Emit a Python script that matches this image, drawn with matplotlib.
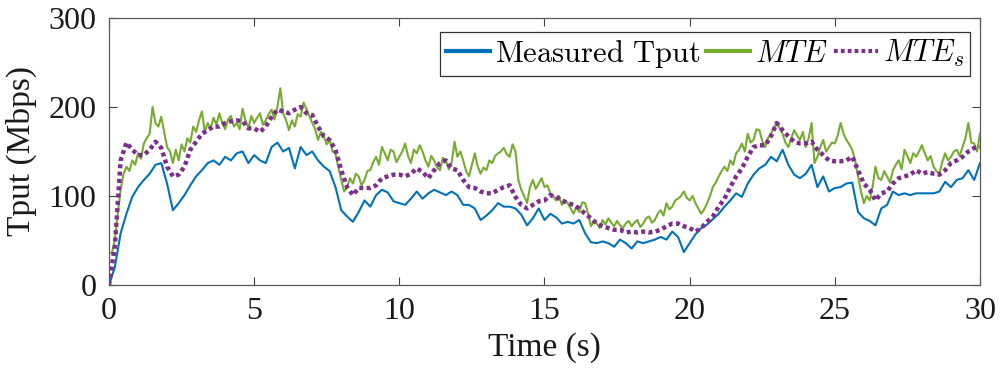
import numpy as np
import matplotlib
matplotlib.use("Agg")
import matplotlib.pyplot as plt

plt.rcParams["mathtext.fontset"] = "cm"
plt.rcParams["font.family"] = ["Liberation Serif", "DejaVu Serif"]

# Measured throughput (Mbps), sampled every 0.2 s, one row per second
tput = [
    0, 20, 58, 80, 99,
    110, 118, 125, 135, 137,
    114, 84, 92, 101, 112,
    122, 129, 137, 140, 135,
    144, 140, 148, 150, 137,
    146, 140, 137, 155, 160,
    150, 154, 131, 155, 146,
    150, 140, 133, 128, 110,
    84, 77, 71, 82, 95,
    88, 101, 107, 104, 94,
    92, 90, 97, 105, 97,
    103, 107, 104, 101, 105,
    101, 90, 90, 86, 73,
    78, 84, 92, 88, 88,
    86, 79, 67, 75, 86,
    73, 80, 76, 69, 71,
    69, 73, 58, 48, 47,
    49, 47, 43, 51, 47,
    41, 49, 47, 49, 51,
    54, 51, 60, 54, 37,
    47, 57, 64, 68, 74,
    80, 88, 95, 103, 99,
    114, 124, 131, 135, 144,
    139, 152, 135, 124, 120,
    125, 135, 110, 122, 105,
    109, 110, 114, 115, 82,
    75, 72, 67, 86, 90,
    105, 101, 103, 101, 103,
    103, 103, 103, 105, 116,
    110, 118, 120, 129, 118,
    137,
]

# MTE estimate (Mbps), sampled every 0.1 s, one row per second
mte = [
    36, 36, 50, 80, 107, 125, 133, 128, 140, 135,
    148, 142, 159, 165, 170, 200, 182, 178, 189, 172,
    155, 150, 137, 152, 140, 158, 150, 165, 160, 178,
    172, 185, 195, 172, 182, 176, 188, 180, 193, 182,
    175, 186, 190, 178, 182, 175, 198, 185, 176, 190,
    182, 188, 193, 180, 185, 192, 197, 186, 200, 221,
    193, 185, 174, 185, 178, 192, 189, 205, 198, 190,
    182, 175, 163, 172, 167, 158, 163, 150, 148, 132,
    118, 105, 110, 120, 114, 125, 122, 112, 118, 128,
    129, 138, 144, 135, 155, 148, 140, 152, 150, 138,
    144, 150, 159, 145, 137, 152, 148, 157, 150, 140,
    133, 145, 140, 132, 129, 143, 140, 130, 137, 161,
    144, 150, 140, 128, 122, 135, 148, 133, 125, 132,
    129, 140, 137, 145, 148, 150, 154, 147, 144, 158,
    150, 118, 107, 100, 92, 110, 118, 108, 114, 120,
    110, 112, 103, 100, 95, 100, 90, 95, 92, 86,
    80, 88, 82, 93, 92, 80, 66, 72, 69, 64,
    73, 68, 75, 70, 66, 72, 67, 64, 69, 72,
    66, 70, 73, 65, 69, 75, 77, 70, 73, 80,
    84, 78, 92, 85, 88, 95, 97, 100, 105, 98,
    95, 100, 92, 86, 80, 85, 92, 100, 110, 115,
    122, 128, 133, 128, 140, 135, 148, 152, 159, 150,
    170, 160, 163, 175, 174, 162, 155, 165, 170, 176,
    183, 176, 170, 160, 155, 165, 174, 168, 163, 172,
    155, 165, 182, 137, 144, 155, 163, 150, 155, 160,
    159, 168, 182, 170, 163, 158, 152, 140, 122, 105,
    92, 100, 95, 110, 133, 120, 118, 128, 122, 115,
    129, 135, 140, 130, 152, 145, 137, 148, 144, 150,
    157, 148, 140, 145, 133, 128, 125, 138, 148, 140,
    144, 150, 152, 145, 155, 165, 182, 160, 159, 150,
    170,
]

# Smoothed MTE (Mbps), sampled every 0.2 s, one row per second
mte_s = [
    0, 43, 140, 160, 152,
    146, 146, 152, 161, 154,
    133, 122, 124, 133, 152,
    161, 170, 174, 178, 178,
    182, 184, 185, 184, 176,
    176, 172, 178, 189, 197,
    195, 193, 197, 200, 193,
    191, 178, 167, 163, 152,
    129, 110, 101, 109, 109,
    109, 112, 120, 122, 124,
    124, 122, 125, 131, 127,
    120, 129, 137, 140, 131,
    129, 118, 110, 109, 105,
    103, 103, 107, 110, 112,
    99, 90, 86, 90, 94,
    95, 101, 99, 95, 92,
    90, 86, 80, 75, 69,
    66, 64, 62, 62, 59,
    60, 59, 60, 59, 60,
    62, 66, 69, 69, 66,
    64, 60, 64, 71, 77,
    88, 97, 110, 122, 131,
    144, 155, 157, 157, 167,
    182, 174, 167, 161, 159,
    159, 161, 152, 146, 140,
    139, 139, 140, 144, 129,
    114, 107, 95, 103, 105,
    114, 120, 122, 124, 129,
    125, 127, 125, 124, 129,
    137, 140, 144, 150, 154,
    155,
]

labels = [r"$\mathrm{Measured\ Tput}$", r"$MTE$", r"$MTE_s$"]
x_ticks = [0, 5, 10, 15, 20, 25, 30]
y_ticks = [0, 100, 200, 300]

t_tput = np.linspace(0, 30, len(tput))
t_mte = np.linspace(0, 30, len(mte))
t_mte_s = np.linspace(0, 30, len(mte_s))

fig = plt.figure(figsize=(10.01, 3.72), dpi=100)
ax = fig.add_axes([0.1089, 0.2339, 0.8701, 0.7177])

ax.plot(t_tput, tput, color="#0072BD", lw=1.5, label=labels[0])
ax.plot(t_mte, mte, color="#77AC30", lw=1.5, label=labels[1])
ax.plot(t_mte_s, mte_s, color="#7E2F8E", lw=3.2,
        linestyle=(0, (0.9, 0.75)), label=labels[2])

ax.set_xlim(0, 30)
ax.set_ylim(0, 300)
ax.set_xticks(x_ticks)
ax.set_yticks(y_ticks)
ax.tick_params(direction="in", length=6, width=0.8, top=True, right=True,
               labelsize=23, colors="#404040", labelcolor="#1a1a1a", pad=9)
for s in ax.spines.values():
    s.set_color("#5a5a5a")
    s.set_linewidth(0.9)

ax.set_xlabel("Time (s)", fontsize=24, labelpad=4, color="#1a1a1a")
ax.set_ylabel("Tput (Mbps)", fontsize=24, labelpad=8, color="#1a1a1a")

leg = ax.legend(loc="upper right", bbox_to_anchor=(970 / 1001, (372 - 32) / 372),
                bbox_transform=fig.transFigure, ncol=3, fontsize=22,
                handlelength=1.45, handletextpad=0.15, columnspacing=0.2,
                borderpad=0.2, borderaxespad=0, fancybox=False, framealpha=1)
leg.get_frame().set_edgecolor("#333333")
leg.get_frame().set_linewidth(0.9)
for line in leg.get_lines():
    line.set_linewidth(3)

fig.savefig("out.png", dpi=100)
